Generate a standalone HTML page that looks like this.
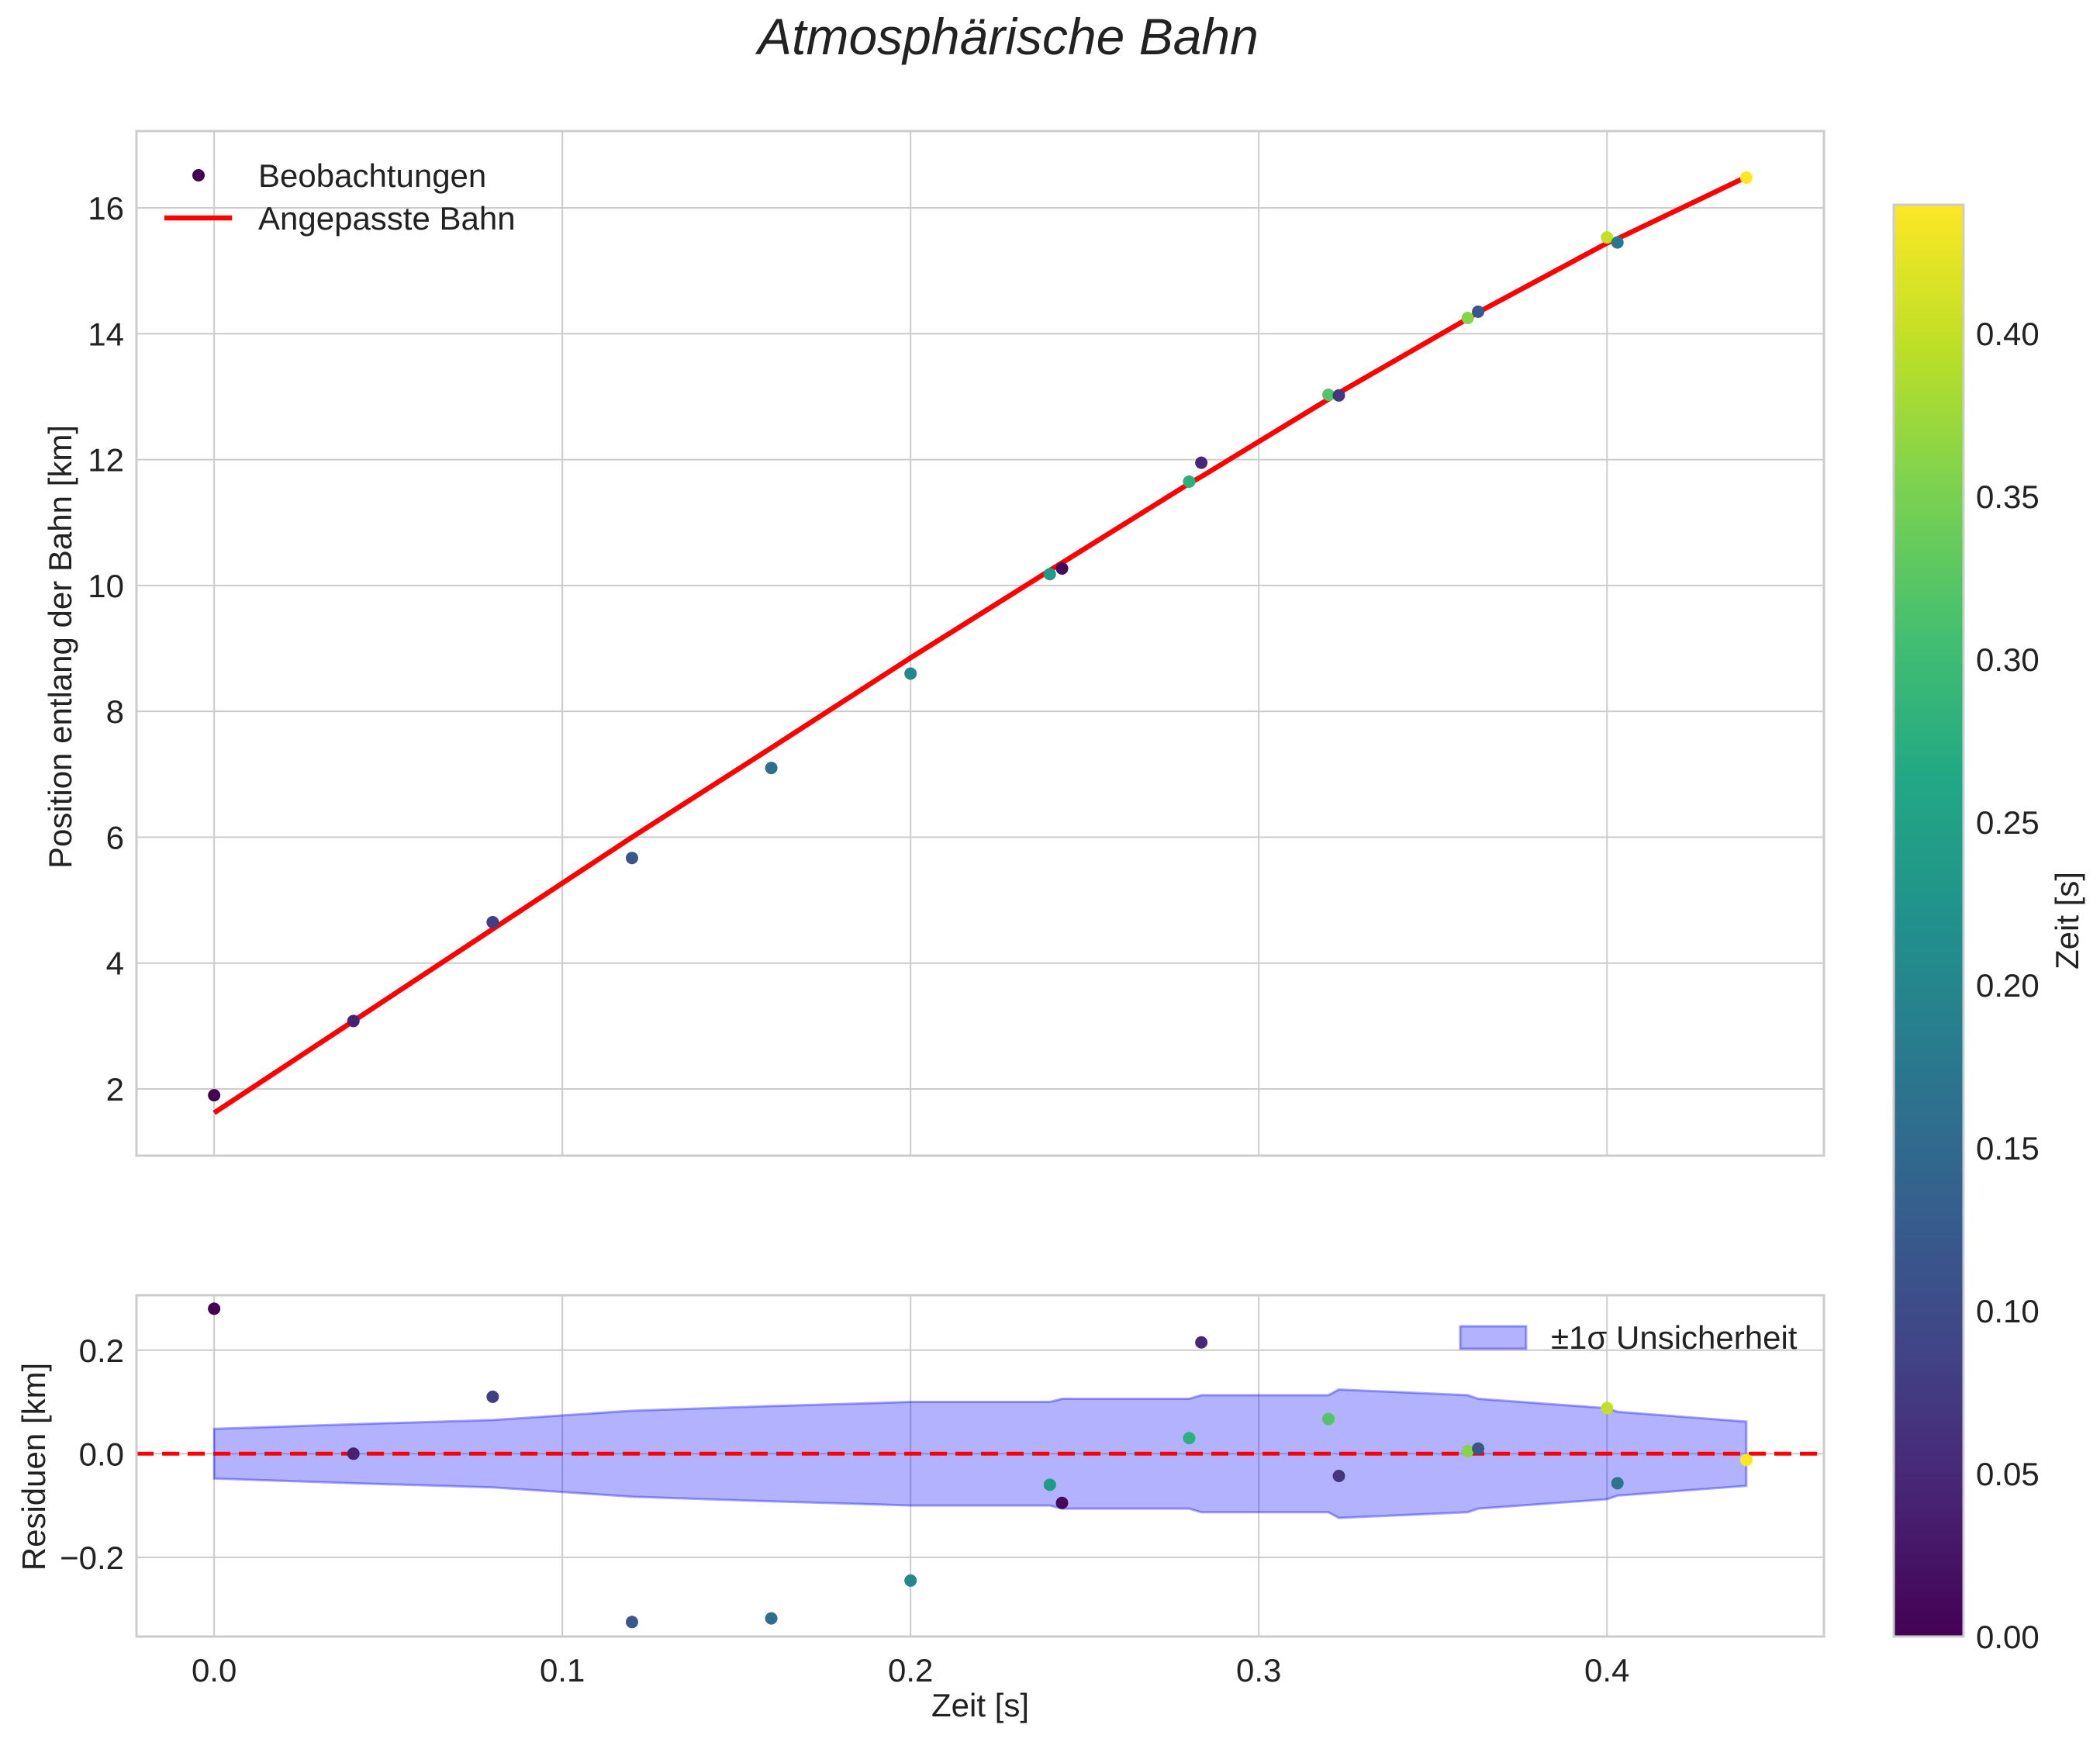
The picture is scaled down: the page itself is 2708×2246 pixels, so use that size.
<!DOCTYPE html>
<html><head><meta charset="utf-8"><style>
html,body{margin:0;padding:0;background:#fff;}
svg{display:block;font-family:"Liberation Sans",sans-serif;}
</style></head><body>
<svg id="chart" width="2708" height="2246" viewBox="0 0 2708 2246" xmlns="http://www.w3.org/2000/svg">
<defs>
<linearGradient id="viridis" x1="0" y1="1" x2="0" y2="0">
<stop offset="0" stop-color="#440154"/><stop offset="0.1" stop-color="#482475"/><stop offset="0.2" stop-color="#414487"/><stop offset="0.3" stop-color="#355f8d"/><stop offset="0.4" stop-color="#2a788e"/><stop offset="0.5" stop-color="#21918c"/><stop offset="0.6" stop-color="#22a884"/><stop offset="0.7" stop-color="#44bf70"/><stop offset="0.8" stop-color="#7ad151"/><stop offset="0.9" stop-color="#bddf26"/><stop offset="1" stop-color="#fde725"/>
</linearGradient>
</defs>
<text x="1300" y="70" text-anchor="middle" font-size="66" font-style="italic" fill="#222">Atmosphärische Bahn</text>
<g id="topg"></g>
<g id="botg"></g>
<g id="cbarg"></g>
</svg>
<script>
const times=[0,0.04,0.08,0.12,0.16,0.20,0.24,0.2435,0.28,0.2835,0.32,0.323,0.36,0.363,0.40,0.403,0.44];
const positions=[1.9,3.08,4.65,5.67,7.1,8.6,10.18,10.27,11.65,11.95,13.03,13.02,14.25,14.35,15.53,15.45,16.48];
const fitted=[1.62,3.08,4.54,6.0,7.42,8.85,10.24,10.36,11.62,11.73,12.96,13.06,14.24,14.34,15.44,15.51,16.49];
const residuals=[0.28,0.0,0.11,-0.325,-0.318,-0.245,-0.06,-0.095,0.03,0.215,0.067,-0.043,0.005,0.01,0.088,-0.057,-0.012];
const sigmas=[0.048,0.057,0.065,0.083,0.092,0.1,0.1,0.106,0.106,0.113,0.113,0.124,0.113,0.106,0.088,0.081,0.062];
const colorVals=[0,0.04,0.08,0.12,0.16,0.20,0.24,0.01,0.28,0.05,0.32,0.07,0.36,0.12,0.40,0.17,0.44];
const xTicks=[0.0,0.1,0.2,0.3,0.4];
const yTopTicks=[2,4,6,8,10,12,14,16];
const yBotTicks=[0.2,0.0,-0.2];
const yBotLabels=["0.2","0.0","\u22120.2"];
const cTicks=[0,0.05,0.10,0.15,0.20,0.25,0.30,0.35,0.40];

const NS="http://www.w3.org/2000/svg";
function mk(parent,tag,attrs,text){const e=document.createElementNS(NS,tag);for(const k in attrs)e.setAttribute(k,attrs[k]);if(text!==undefined)e.textContent=text;parent.appendChild(e);return e;}
const L=176,R=2352,TT=169,TB=1490,BT=1670,BB=2110;
const xmin=-0.0223,xmax=0.4623;
const TF=42, AF=42;
const X=v=>L+(v-xmin)/(xmax-xmin)*(R-L);
const Yt=v=>TB-(v-0.94)/(17.22-0.94)*(TB-TT);
const Yb=v=>BB-(v+0.353)/(0.306+0.353)*(BB-BT);
const vir=["#440154","#482475","#414487","#355f8d","#2a788e","#21918c","#22a884","#44bf70","#7ad151","#bddf26","#fde725"];
function hex(h){return[parseInt(h.substr(1,2),16),parseInt(h.substr(3,2),16),parseInt(h.substr(5,2),16)];}
function cmap(v){let t=Math.max(0,Math.min(1,v/0.44))*10;let i=Math.min(9,Math.floor(t));let f=t-i;const a=hex(vir[i]),b=hex(vir[i+1]);return"rgb("+a.map((x,k)=>Math.round(x+(b[k]-x)*f)).join(",")+")";}

let el;
const topG=document.getElementById('topg');
el=mk(topG,'rect',{x:L,y:TT,width:R-L,height:TB-TT,fill:'#fff'});

xTicks.forEach(v=>{el=mk(topG,'line',{x1:X(v),x2:X(v),y1:TT,y2:TB,stroke:'#cccccc','stroke-width':2});
});
yTopTicks.forEach(v=>{el=mk(topG,'line',{x1:L,x2:R,y1:Yt(v),y2:Yt(v),stroke:'#cccccc','stroke-width':2});

el=mk(topG,'text',{x:L-16,y:Yt(v)+15,'text-anchor':'end','font-size':TF,fill:'#222'},String(v));
});
el=mk(topG,'rect',{x:L,y:TT,width:R-L,height:TB-TT,fill:'none',stroke:'#cccccc','stroke-width':3});

el=mk(topG,'polyline',{points:times.map((t,i)=>X(t)+','+Yt(fitted[i])).join(' '),fill:'none',stroke:'#ff0000','stroke-width':6.5,'stroke-linejoin':'round'});

times.forEach((t,i)=>{el=mk(topG,'circle',{cx:X(t),cy:Yt(positions[i]),r:8,fill:cmap(colorVals[i])});
});
el=mk(topG,'text',{x:92,y:834,'text-anchor':'middle','font-size':AF,fill:'#222',transform:'rotate(-90 92 834)'},'Position entlang der Bahn [km]');

el=mk(topG,'circle',{cx:256,cy:226,r:8,fill:'#440154'});

el=mk(topG,'text',{x:333,y:241,'font-size':AF,fill:'#222'},'Beobachtungen');

el=mk(topG,'line',{x1:212,x2:299,y1:281,y2:281,stroke:'#ff0000','stroke-width':6.5});

el=mk(topG,'text',{x:333,y:296,'font-size':AF,fill:'#222'},'Angepasste Bahn');


const botG=document.getElementById('botg');
xTicks.forEach(v=>{el=mk(botG,'line',{x1:X(v),x2:X(v),y1:BT,y2:BB,stroke:'#cccccc','stroke-width':2});

el=mk(botG,'text',{x:X(v),y:BB+58,'text-anchor':'middle','font-size':TF,fill:'#222'},v.toFixed(1));
});
yBotTicks.forEach((v,i)=>{el=mk(botG,'line',{x1:L,x2:R,y1:Yb(v),y2:Yb(v),stroke:'#cccccc','stroke-width':2});

el=mk(botG,'text',{x:L-16,y:Yb(v)+15,'text-anchor':'end','font-size':TF,fill:'#222'},yBotLabels[i]);
});
const up=times.map((t,i)=>X(t)+','+Yb(sigmas[i]));
const dn=times.map((t,i)=>X(t)+','+Yb(-sigmas[i])).reverse();
el=mk(botG,'polygon',{points:up.concat(dn).join(' '),fill:'rgba(0,0,255,0.3)',stroke:'rgba(0,0,255,0.35)','stroke-width':3});

el=mk(botG,'line',{x1:L,x2:R,y1:Yb(0),y2:Yb(0),stroke:'#ff0000','stroke-width':5,'stroke-dasharray':'22 11'});

times.forEach((t,i)=>{el=mk(botG,'circle',{cx:X(t),cy:Yb(residuals[i]),r:8,fill:cmap(colorVals[i])});
});
el=mk(botG,'rect',{x:L,y:BT,width:R-L,height:BB-BT,fill:'none',stroke:'#cccccc','stroke-width':3});

el=mk(botG,'rect',{x:1883,y:1710,width:85,height:29,fill:'rgba(0,0,255,0.3)',stroke:'rgba(0,0,255,0.35)','stroke-width':3});

el=mk(botG,'text',{x:2000,y:1739,'font-size':AF,fill:'#222'},'±1σ Unsicherheit');

el=mk(botG,'text',{x:58,y:1891,'text-anchor':'middle','font-size':AF,fill:'#222',transform:'rotate(-90 58 1891)'},'Residuen [km]');

el=mk(botG,'text',{x:1264,y:2213,'text-anchor':'middle','font-size':AF,fill:'#222'},'Zeit [s]');


const cbG=document.getElementById('cbarg');
const CL=2442,CR=2532,CT=264,CB=2110,CMAX=0.4395;
const Yc=v=>CB-v/CMAX*(CB-CT);
el=mk(cbG,'rect',{x:CL,y:CT,width:CR-CL,height:CB-CT,fill:'url(#viridis)',stroke:'#cccccc','stroke-width':3});

cTicks.forEach(v=>{el=mk(cbG,'text',{x:CR+16,y:Yc(v)+15,'font-size':TF,fill:'#222'},v.toFixed(2));
});
el=mk(cbG,'text',{x:2680,y:1187,'text-anchor':'middle','font-size':AF,fill:'#222',transform:'rotate(-90 2680 1187)'},'Zeit [s]');

</script>
</body></html>
